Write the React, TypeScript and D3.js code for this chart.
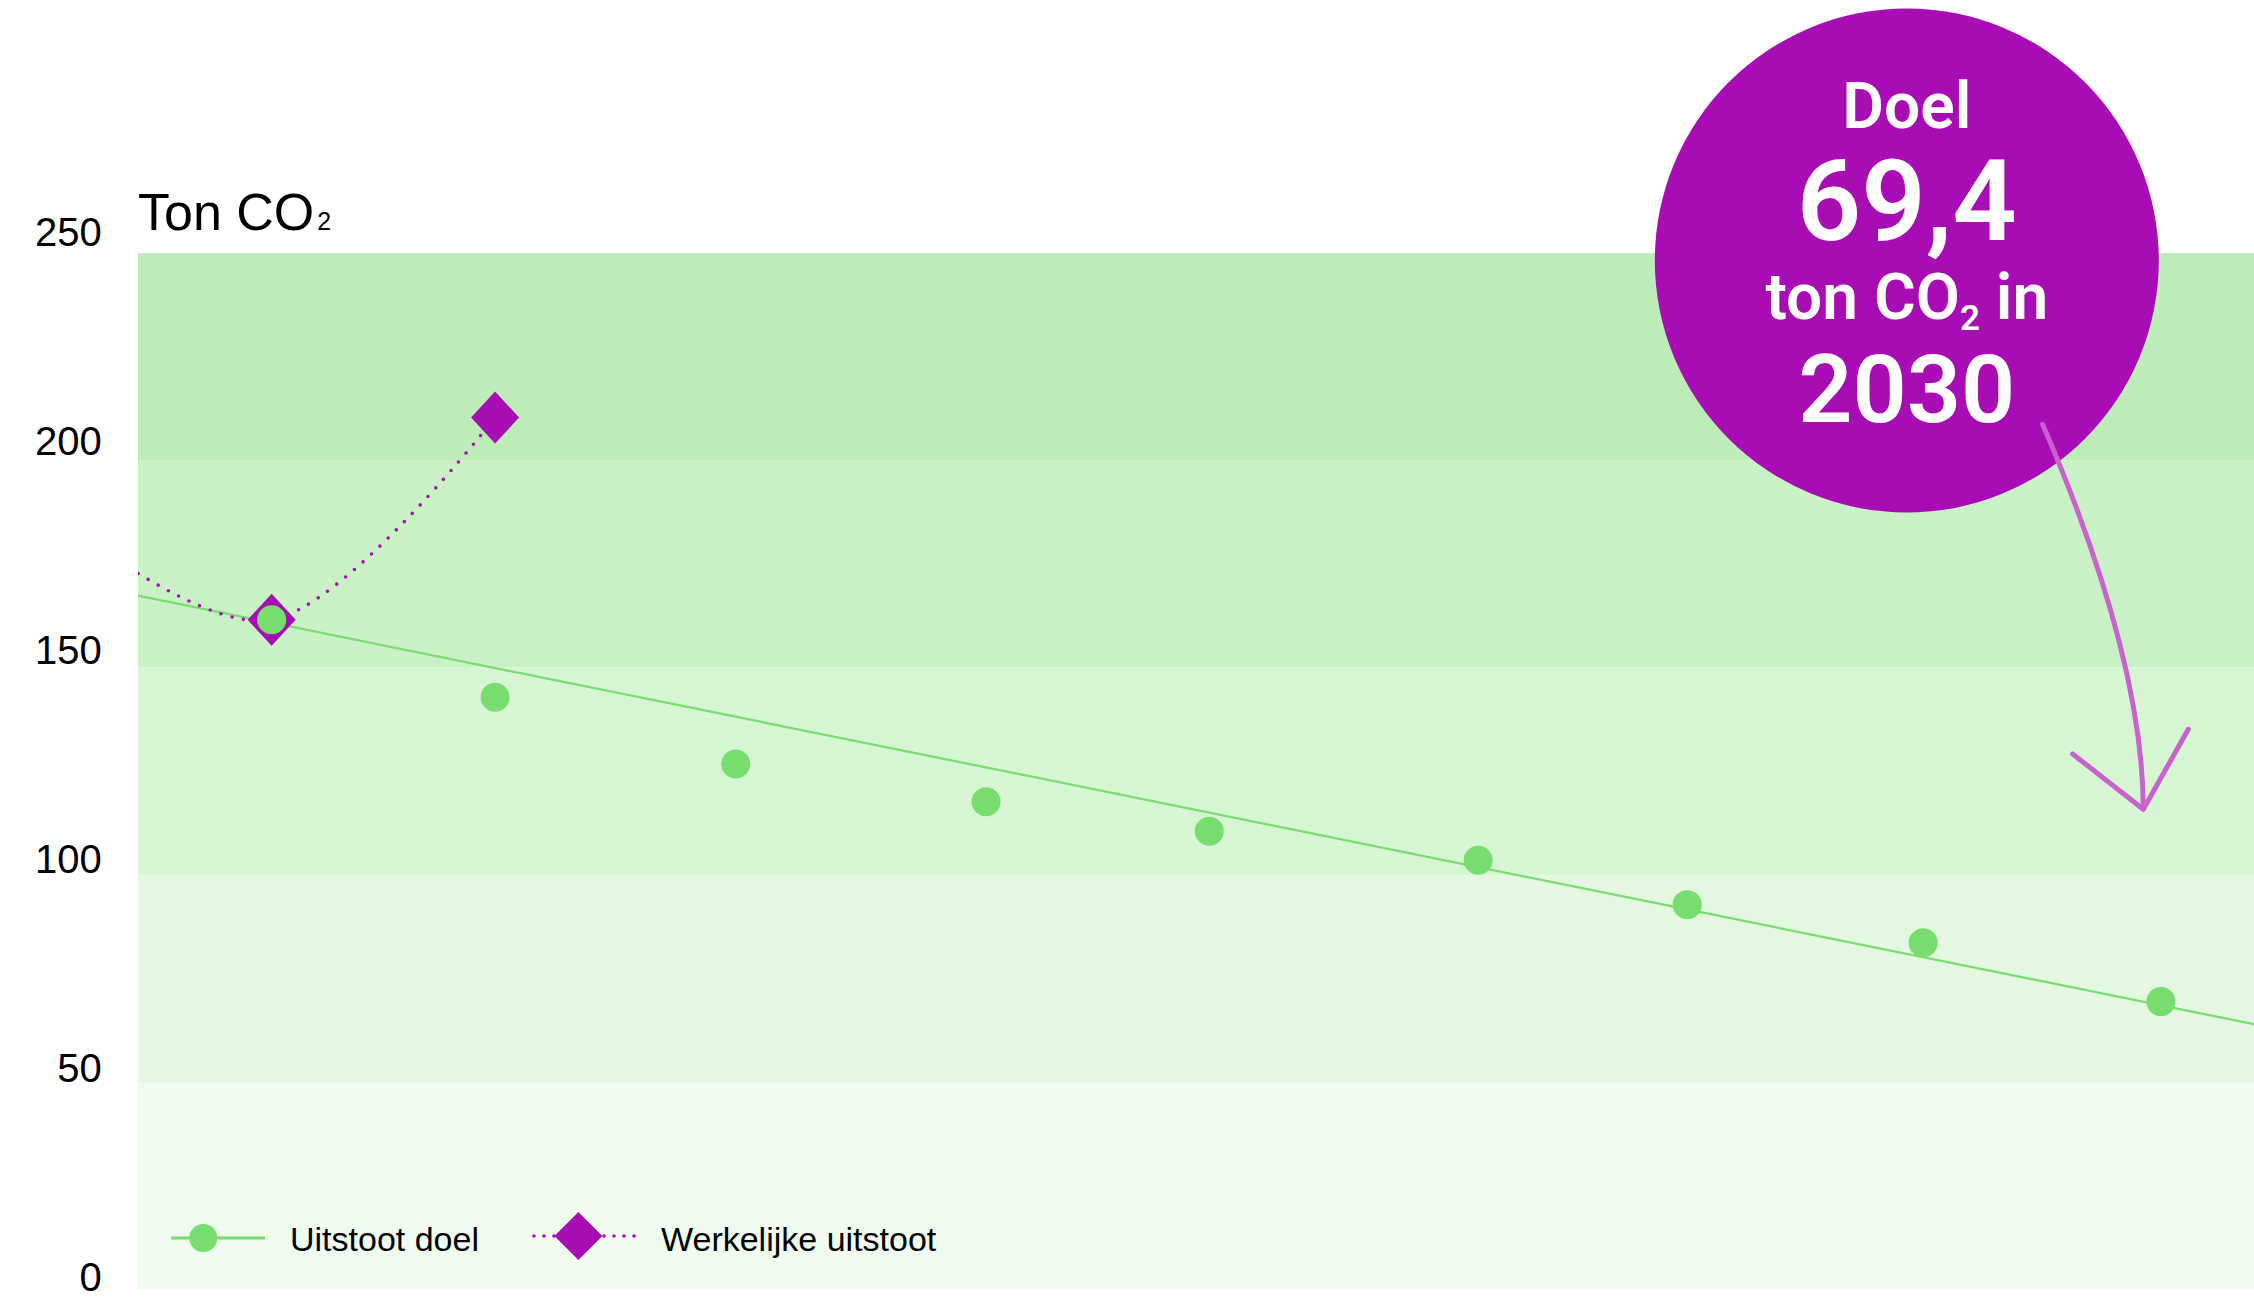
import React from 'react';
import * as d3 from 'd3';

const W = 2254;
const H = 1303;

// Vertical axis ticks (ton CO2) and the shaded value bands, bottom to top
const yTicks = [0, 50, 100, 150, 200, 250];
const bandLower = [0, 50, 100, 150, 200];
const bandUpper = [50, 100, 150, 200, 250];
const bandColors = ['#f0fbef', '#e3f7e1', '#d6f5d3', '#caf1c6', '#bcedb8'];

// Yearly emission targets, placed at their position on the timeline
const goalYears = [2022, 2023, 2024, 2025, 2026, 2027, 2028, 2029, 2030];
const goalPos = [2022.0, 2022.946, 2023.965, 2025.025, 2025.97, 2027.109, 2027.994, 2028.993, 2030.0];
const goalValues = [161.5, 142.8, 126.7, 117.6, 110.5, 103.5, 92.8, 83.6, 69.4];

// Straight reduction path between the start year and the target year
const pathYears = [2022, 2030];
const pathValues = [160.8, 68.5];

// Measured emissions
const actualPos = [2021.0, 2022.0, 2022.946];
const actualValues = [190.4, 161.5, 210.3];

const GREEN = '#77dd6d';
const PURPLE = '#a80db5';
const ARROW = '#c862cc';
const SANS = '"Liberation Sans", Arial, Helvetica, sans-serif';
const ROUND = 'Roboto, "Noto Sans", sans-serif';

const plot = { left: 138, right: W, top: 253, bottom: 1289.3 };

const x = d3.scaleLinear().domain([2021.434, 2030.394]).range([plot.left, plot.right]);
const y = d3.scaleLinear().domain([0, 250]).range([plot.bottom, plot.top]);
// baseline positions of the tick labels
const yLabel = d3.scaleLinear().domain([0, 250]).range([1290.5, 246]);

const diamond = (cx: number, cy: number, hw: number, hh: number) =>
  `M${cx},${cy - hh}L${cx + hw},${cy}L${cx},${cy + hh}L${cx - hw},${cy}Z`;

export default function App() {
  const pathScale = d3.scaleLinear().domain(pathYears).range(pathValues);
  const [d0, d1] = x.domain();
  const trendLine = d3.line<number>().x((d) => x(d)).y((d) => y(pathScale(d)))([d0, d1]) || '';

  const actualLine =
    d3
      .line<number>()
      .x((_, i) => x(actualPos[i]))
      .y((d) => y(d))
      .curve(d3.curveCardinal.tension(0))(actualValues) || '';

  const goalLabel = String(goalValues[goalValues.length - 1]).replace('.', ',');
  const goalYear = String(goalYears[goalYears.length - 1]);

  const cx = 1906.8;
  const cy = 260.5;

  return (
    <svg
      width={W}
      height={H}
      viewBox={`0 0 ${W} ${H}`}
      style={{ position: 'absolute', left: 0, top: 0, display: 'block', background: '#fff' }}
    >
      <defs>
        <clipPath id="plot-clip">
          <rect x={plot.left} y={0} width={plot.right - plot.left} height={plot.bottom} />
        </clipPath>
      </defs>

      {/* value bands */}
      {bandLower.map((lo, i) => (
        <rect
          key={lo}
          x={plot.left}
          y={y(bandUpper[i])}
          width={plot.right - plot.left}
          height={y(lo) - y(bandUpper[i])}
          fill={bandColors[i]}
        />
      ))}

      {/* axis title */}
      <text x={plot.left} y={230} fontFamily={SANS} fontSize={52} fill="#000">
        Ton CO<tspan fontSize={25} dx={3}>2</tspan>
      </text>

      {/* tick labels */}
      {yTicks.map((t) => (
        <text key={t} x={101.7} y={yLabel(t)} textAnchor="end" fontFamily={SANS} fontSize={40} fill="#000">
          {t}
        </text>
      ))}

      <g clipPath="url(#plot-clip)">
        {/* reduction path */}
        <path d={trendLine} fill="none" stroke={GREEN} strokeWidth={2.2} />

        {/* measured emissions */}
        <path
          d={actualLine}
          fill="none"
          stroke={PURPLE}
          strokeWidth={3.6}
          strokeLinecap="round"
          strokeDasharray="0 11.5"
        />
        {actualValues.map((v, i) => (
          <path key={i} d={diamond(x(actualPos[i]), y(v), 24, 26)} fill={PURPLE} />
        ))}

        {/* targets */}
        {goalValues.map((v, i) => (
          <circle key={goalYears[i]} cx={x(goalPos[i])} cy={y(v)} r={14.5} fill={GREEN} />
        ))}
      </g>

      {/* legend */}
      <g>
        <line x1={171} x2={265} y1={1238} y2={1238} stroke={GREEN} strokeWidth={3} />
        <circle cx={203.3} cy={1238} r={14} fill={GREEN} />
        <text x={290} y={1250.5} fontFamily={SANS} fontSize={34} fill="#000">
          Uitstoot doel
        </text>

        <line
          x1={534}
          x2={636}
          y1={1236}
          y2={1236}
          stroke={PURPLE}
          strokeWidth={3.6}
          strokeLinecap="round"
          strokeDasharray="0 10"
        />
        <path d={diamond(578.4, 1236, 24, 24)} fill={PURPLE} />
        <text x={661} y={1250.5} fontFamily={SANS} fontSize={34} fill="#000">
          Werkelijke uitstoot
        </text>
      </g>

      {/* target callout */}
      <circle cx={cx} cy={cy} r={252} fill={PURPLE} />
      <g fill="#fff" fontFamily={ROUND} fontWeight={600} textAnchor="middle">
        <text x={cx} y={127.5} fontSize={64}>
          Doel
        </text>
        <text x={cx} y={240} fontSize={113}>
          {goalLabel}
        </text>
        <text x={cx} y={319} fontSize={64}>
          ton CO
          <tspan fontSize={35} dy={11}>
            2
          </tspan>
          <tspan dy={-11}> in</tspan>
        </text>
        <text x={cx} y={422} fontSize={95}>
          {goalYear}
        </text>
      </g>

      {/* arrow towards the target year */}
      <g fill="none" stroke={ARROW} strokeWidth={5} strokeLinecap="round" strokeLinejoin="round">
        <path d="M2042.6,424.3Q2143,657 2143.3,809.3" />
        <path d="M2072.7,754L2143.3,809.3L2188.3,729.3" />
      </g>
    </svg>
  );
}
